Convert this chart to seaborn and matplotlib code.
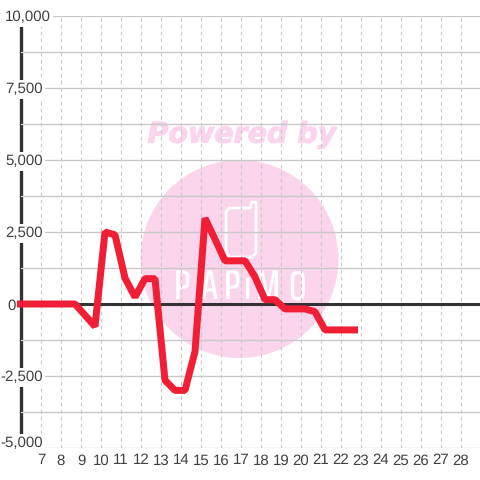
import matplotlib
matplotlib.use("Agg")
import matplotlib.pyplot as plt
import matplotlib.patheffects as pe
from matplotlib.patches import Circle
from matplotlib.lines import Line2D
from matplotlib.transforms import ScaledTranslation
import seaborn as sns

# values
hours = [5.8, 8.7, 9.7, 10.2, 10.7, 11.2, 11.7, 12.2, 12.7, 13.2, 13.7, 14.2, 14.7,
         15.2, 15.7, 16.2, 17.2, 17.7, 18.2, 18.7, 19.2, 20.2, 20.7, 21.2, 22.85]
values = [0, 0, -780, 2500, 2400, 900, 240, 880, 880, -2650, -3000, -3000, -1650,
          2980, 2250, 1500, 1500, 940, 150, 150, -170, -170, -270, -900, -900]
x_ticks = list(range(7, 29))
y_ticks = [-5000, -2500, 0, 2500, 5000, 7500, 10000]
y_minor = [-3750, -1250, 1250, 3750, 6250, 8750]
y_labels = ["-5,000", "-2,500", "0", "2,500", "5,000", "7,500", "10,000"]

GRID = "#c9c9c9"
DARK = "#333333"
PINK = "#fbd5ec"
RED = "#f01f36"
W = 480

sns.set_style("white")
plt.rcParams["font.family"] = ["Liberation Sans", "DejaVu Sans"]
plt.rcParams["text.hinting"] = "no_hinting"

fig = plt.figure(figsize=(4.8, 4.8), dpi=100)
ax = fig.add_axes([20.5 / W, 1 - 448 / W, (W - 20.5) / W, 432 / W])
ax.patch.set_visible(False)

# watermark sits behind the axes
def px(x, y):
    return x / W, 1 - y / W

fig.add_artist(Circle(px(239.5, 259), 99 / W, transform=fig.transFigure, color=PINK, lw=0, zorder=-2))
fig.text(*px(242, 135), "Powered by", color=PINK, family="DejaVu Sans", fontsize=20.5,
         weight="bold", style="italic", ha="center", va="center", zorder=-2,
         path_effects=[pe.withStroke(linewidth=0.8, foreground=PINK)])
phone = [(226, 212), (229, 208), (250, 208), (252, 202), (256, 202), (256, 253),
         (252, 257), (230, 257), (226, 253), (226, 212)]
fig.add_artist(Line2D(*zip(*[px(a, b) for a, b in phone]), transform=fig.transFigure, color="white",
                      lw=2.0, solid_joinstyle="round", zorder=-1))
logo_x = [182, 209, 232, 247, 268, 297]
for x, letter in zip(logo_x, "PAPiMO"):
    fig.text(*px(x, 288), letter, color="white", family=["Saira ExtraCondensed", "Roboto"],
             fontsize=30, weight=500, ha="center", va="center", zorder=-1)

sns.lineplot(x=hours, y=values, ax=ax, color=RED, lw=7 * 0.72, estimator=None, zorder=4, clip_on=False,
             solid_joinstyle="bevel", solid_capstyle="butt")

ax.set_xlim(5.975, 28.95)
ax.set_ylim(-5000, 10000)
ax.set_xticks(x_ticks)
ax.set_yticks(y_ticks)
ax.set_yticklabels(y_labels)
ax.set_yticks(y_minor, minor=True)
ax.set_axisbelow(True)
ax.grid(True, axis="y", which="both", color=GRID, lw=1.0)
ax.grid(True, axis="x", color=GRID, lw=0.8, linestyle=(0, (3.3, 3.0)))
ax.axhline(0, color=DARK, lw=2.2, zorder=2)

ax.tick_params(axis="both", which="both", length=0, labelsize=10.8, labelcolor="#404040")
ax.tick_params(axis="x", pad=4)
ax.tick_params(axis="y", pad=-16.2)
for side in ["top", "right", "bottom"]:
    ax.spines[side].set_visible(False)
ax.spines["left"].set_color(DARK)
ax.spines["left"].set_linewidth(2.4)
ax.spines["left"].set_zorder(0.4)

label_shift = {"10,000": (8, 0), "-5,000": (0, 6), "0": (-27, 0)}
for tick, label in zip(ax.yaxis.get_major_ticks(), y_labels):
    tick.label1.set_bbox(dict(fc="white", ec="none", pad=1.6))
    if label in label_shift:
        dx, dy = label_shift[label]
        tick.label1.set_transform(tick.label1.get_transform() + ScaledTranslation(dx / 100, dy / 100, fig.dpi_scale_trans))

fig.savefig("out.png", dpi=100)
